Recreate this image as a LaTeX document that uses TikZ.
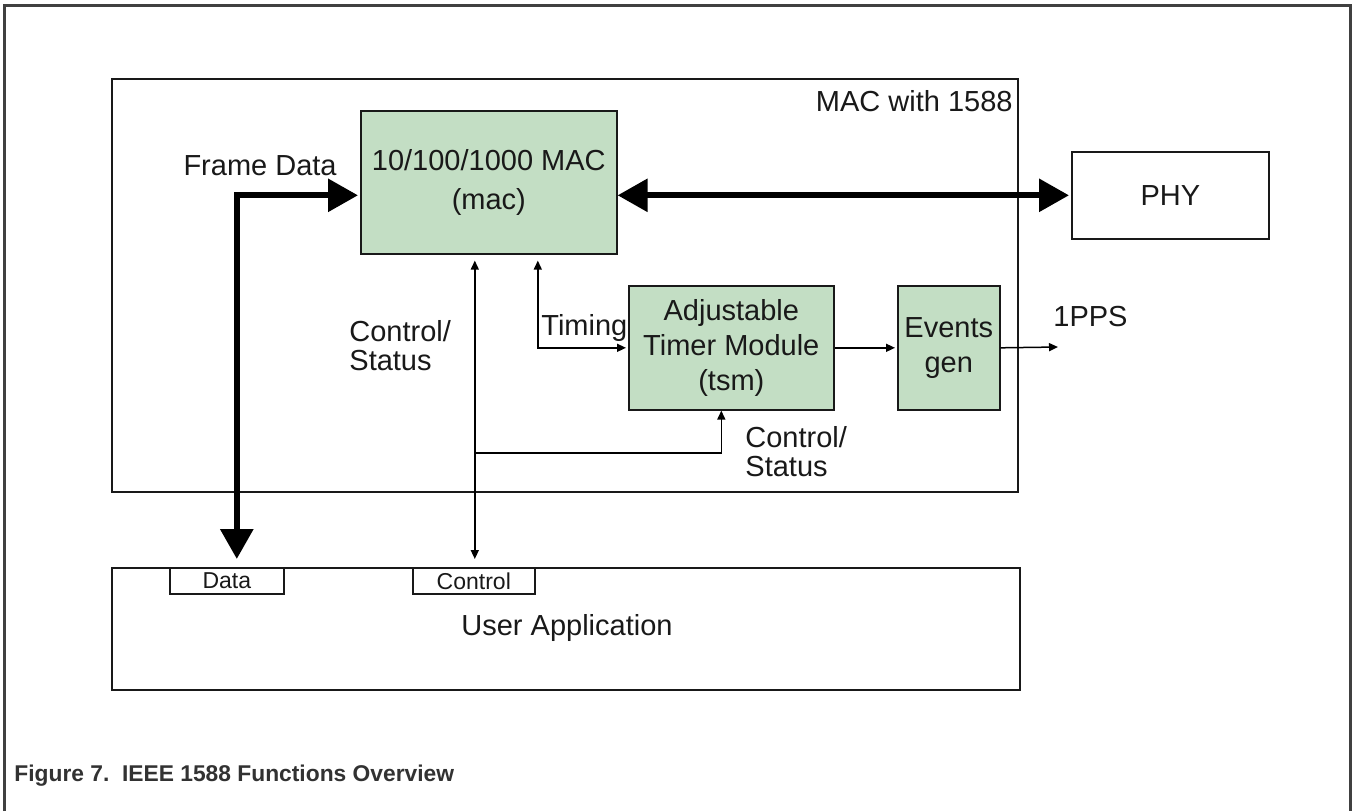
\documentclass[tikz,border=0pt]{standalone}
\usepackage{fontspec}
\setmainfont{Liberation Sans}
\usetikzlibrary{arrows.meta}
\definecolor{macgreen}{RGB}{195,222,196}
\definecolor{framegray}{RGB}{64,64,64}
\definecolor{capgray}{RGB}{50,50,50}
\definecolor{inkc}{RGB}{25,25,25}
\tikzset{
  box/.style={draw=inkc, line width=0.8pt, anchor=north west, inner sep=0pt, align=center, text=inkc,
     font=\fontsize{14.5}{17.5}\selectfont},
  gbox/.style={box, fill=macgreen},
  lbl/.style={inner sep=0pt, text=inkc, font=\fontsize{14.5}{14.5}\selectfont, align=left},
  tiny/.style={box, font=\fontsize{11.5}{13}\selectfont},
  bigboth/.style={line width=3pt, draw=black, {Triangle[length=15pt,width=16pt]}-{Triangle[length=15pt,width=16pt]}},
  thin/.style={line width=0.75pt, draw=black, -{Triangle[length=4.5pt,width=4pt]}},
  thinboth/.style={line width=0.75pt, draw=black, {Triangle[length=4.5pt,width=4pt]}-{Triangle[length=4.5pt,width=4pt]}},
}
\begin{document}
\begin{tikzpicture}[x=0.5pt,y=-0.5pt]
\useasboundingbox (0,0) rectangle (1352,811);
\fill[white] (0,0) rectangle (1352,811);
% outer frame
\draw[framegray, line width=1.5pt] (4,811) -- (4,5) -- (1350,5) -- (1350,811);

% container
\node[box, minimum width=453pt, minimum height=206.5pt] (macw) at (111,78) {};
\node[lbl, anchor=east] (macwl) at (1013,101) {MAC with 1588};

% blocks
\node[gbox, minimum width=128pt, minimum height=71.5pt] (mac) at (360,110) {10/100/1000 MAC\\[2pt](mac)};
\node[box, minimum width=98.5pt, minimum height=43.5pt] (phy) at (1071,151) {PHY};
\node[gbox, minimum width=102.5pt, minimum height=62pt] (tsm) at (628,285) {Adjustable\\Timer Module\\(tsm)};
\node[gbox, minimum width=51pt, minimum height=62pt] (ev) at (897,285) {Events\\gen};
\node[box, minimum width=454pt, minimum height=61pt] (user) at (111,567) {};
\node[lbl, anchor=center] (userl) at (567,628) {User Application};
\node[tiny, minimum width=57pt, minimum height=13pt] (data) at (169,567) {Data};
\node[tiny, minimum width=61pt, minimum height=13pt] (ctl) at (412,567) {Control};

% labels
\node[lbl, anchor=east] (fdl) at (337,166) {Frame Data};
\node[lbl, anchor=west] (csl) at (349,346) {Control/\\Status};
\node[lbl, anchor=west] (tml) at (541,328) {Timing};
\node[lbl, anchor=west] (csr) at (745,452) {Control/\\Status};
\node[lbl, anchor=west] (ppsl) at (1053,317) {1PPS};

\coordinate (pps) at (1058,347);
\coordinate (br) at (474,453);

% connectors
\draw[bigboth, shorten >=1pt] (mac.east |- phy.west) -- (phy.west);
\draw[bigboth, shorten <=4pt, shorten >=1pt] ([xshift=5pt]data.north) |- (mac.west |- phy.west);
\draw[thinboth, shorten <=4pt, shorten >=3pt] ([xshift=0.5pt]ctl.north) -- ([xshift=0.5pt]ctl.north |- mac.south);
\draw[thin] (br) -| ([xshift=-5pt]tsm.south);
\draw[thinboth, shorten <=3pt, shorten >=1pt] ([xshift=24.5pt]mac.south) |- (tsm.west);
\draw[thin, shorten >=1pt] (tsm.east) -- (ev.west);
\draw[thin] (ev.east) -- (pps);

% caption
\node[anchor=west, inner sep=0pt, text=capgray, font=\bfseries\fontsize{11.4}{13}\selectfont] (cap) at (14,776) {Figure 7.\ \ IEEE 1588 Functions Overview};
\end{tikzpicture}
\end{document}
